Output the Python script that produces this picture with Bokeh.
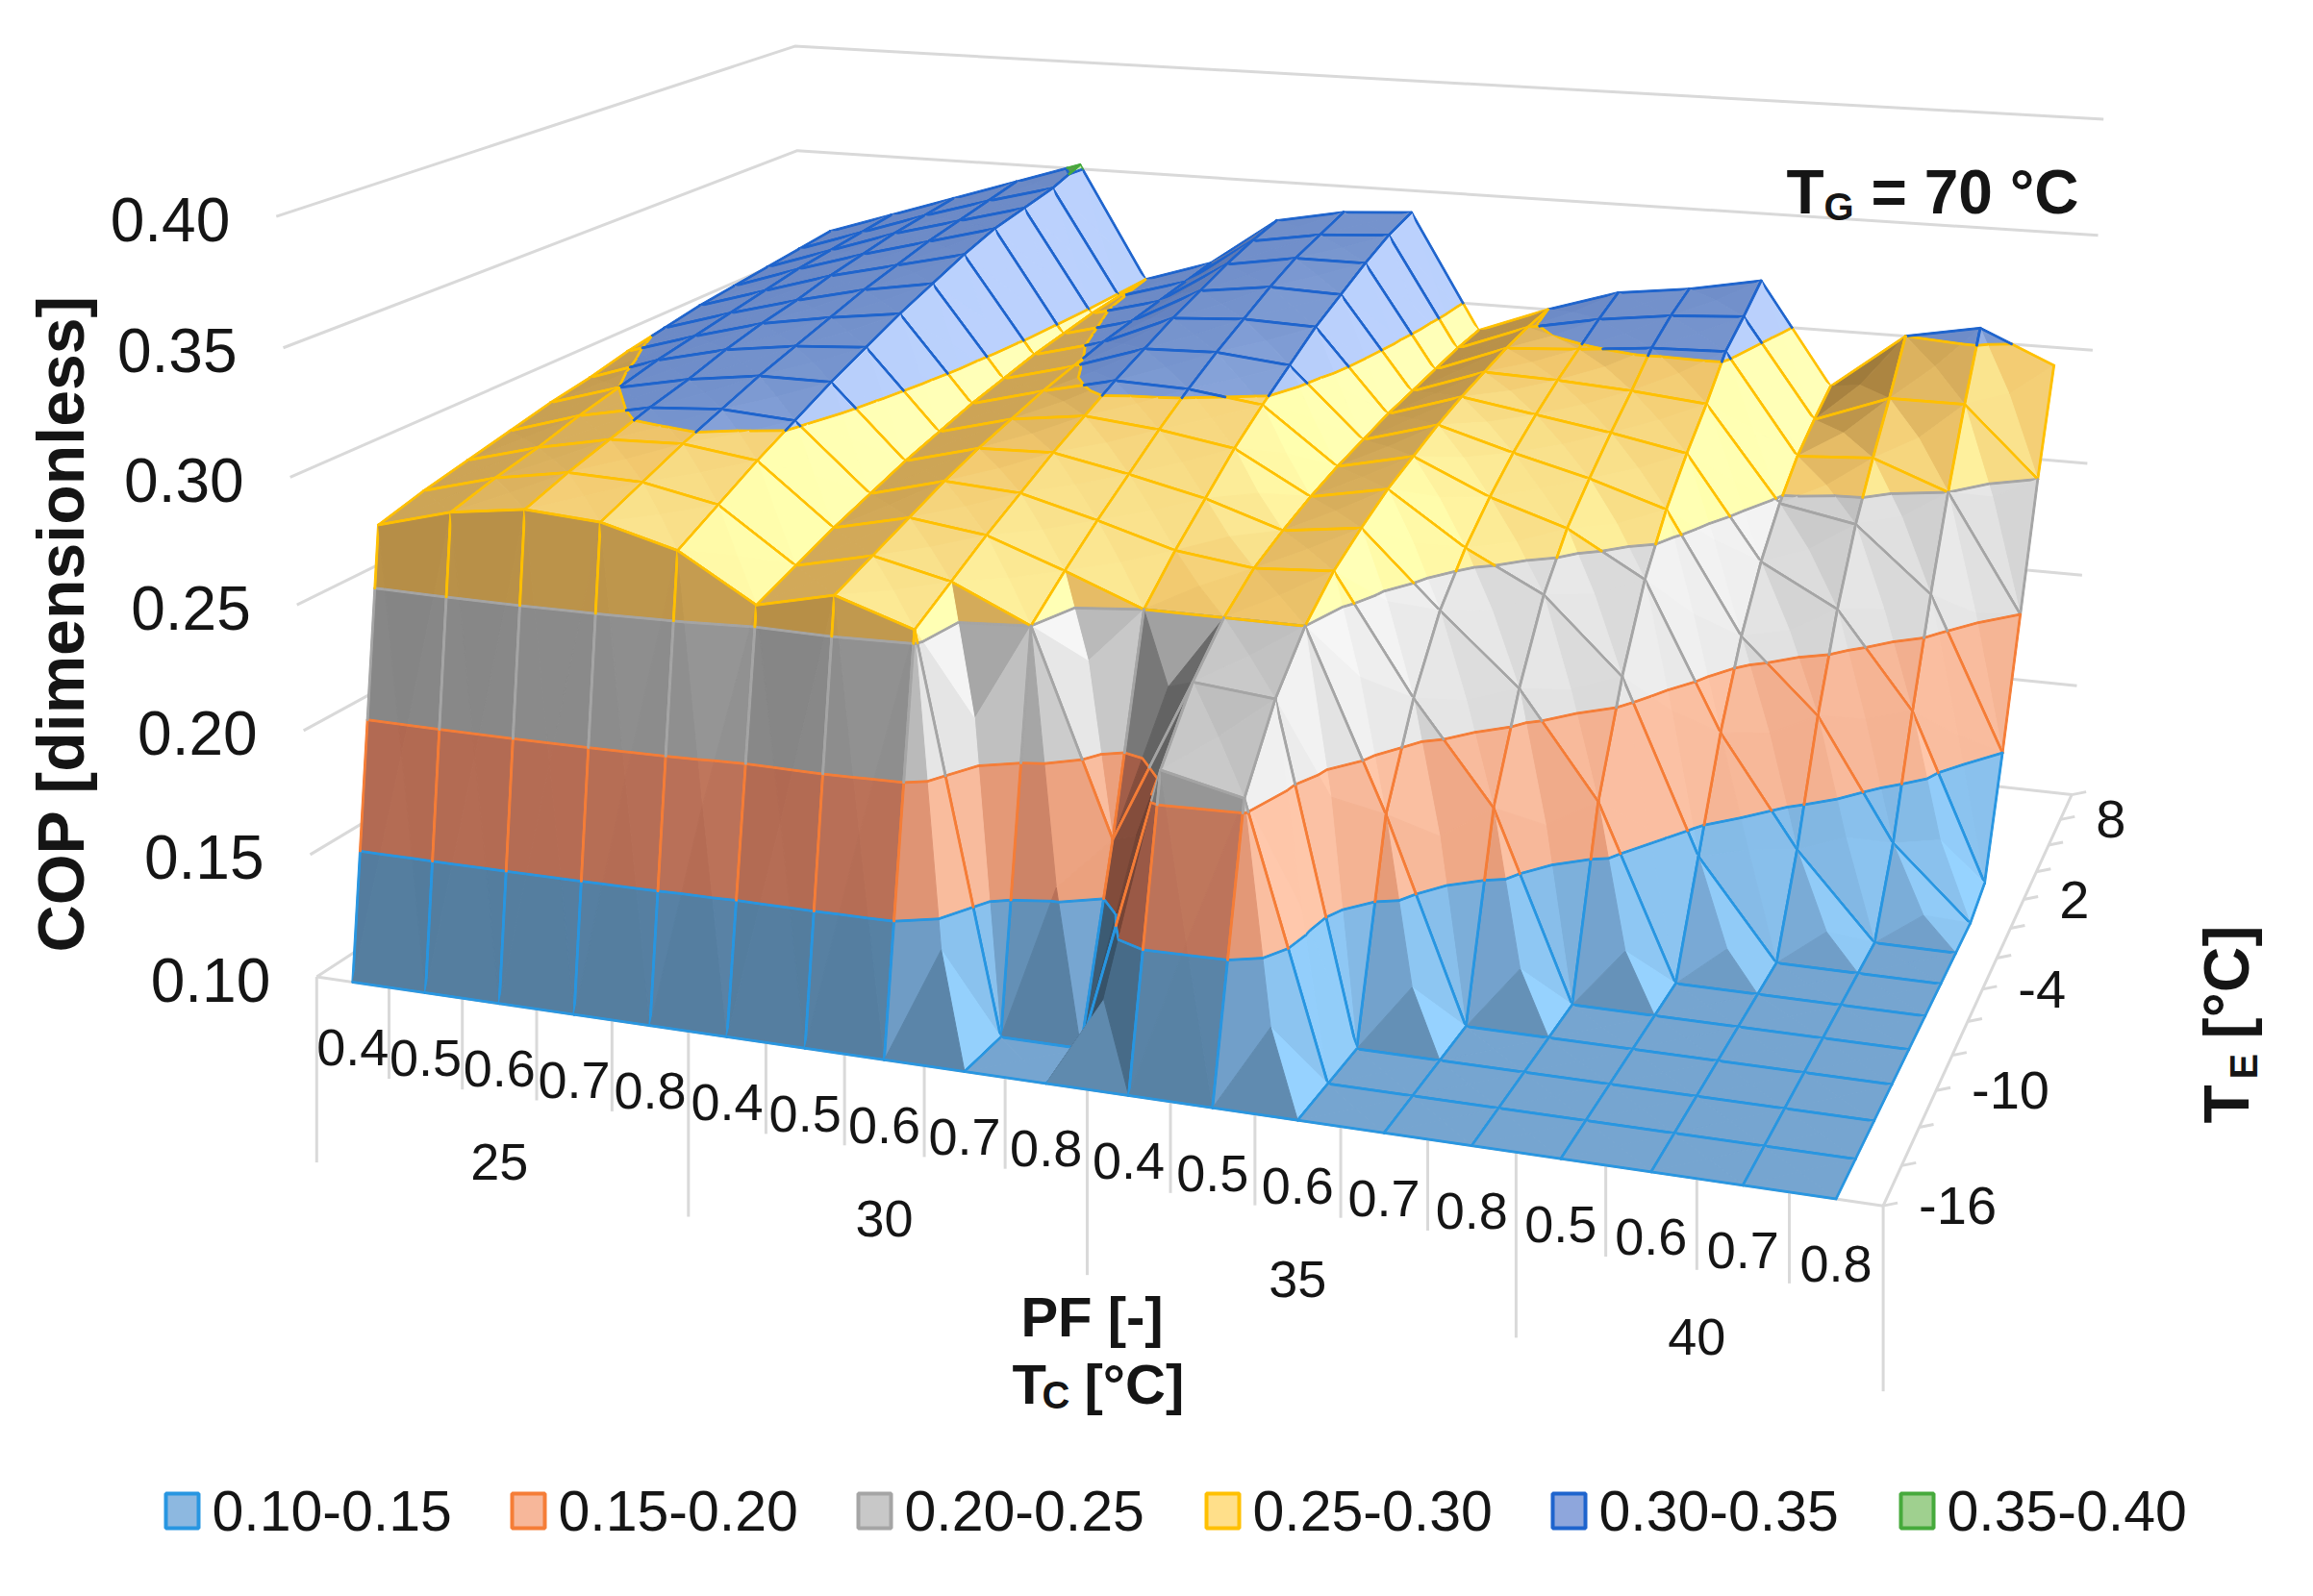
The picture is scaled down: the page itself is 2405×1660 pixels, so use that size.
import numpy as np
from bokeh.plotting import figure
from bokeh.models import Range1d
from bokeh.embed import file_html
from bokeh.resources import INLINE
from bokeh.core.properties import value

# ---------------- data ----------------
tc_labels = ["25", "30", "35", "40"]
tc_group_sizes = [5, 5, 5, 4]
pf_labels = ["0.4", "0.5", "0.6", "0.7", "0.8",
             "0.4", "0.5", "0.6", "0.7", "0.8",
             "0.4", "0.5", "0.6", "0.7", "0.8",
             "0.5", "0.6", "0.7", "0.8"]
te_values = [-16, -14, -12, -10, -8, -6, -4, -2, 0, 2, 4, 6, 8, 10]
te_tick_labels = ["-16", "-10", "-4", "2", "8"]
cop_ticks = [0.10, 0.15, 0.20, 0.25, 0.30, 0.35, 0.40]
band_labels = ["0.10-0.15", "0.15-0.20", "0.20-0.25", "0.25-0.30", "0.30-0.35", "0.35-0.40"]

# COP for each evaporator temperature (one list per T_E, 19 PF/T_C categories)
cop_te_m16 = [0.100, 0.100, 0.100, 0.100, 0.100, 0.100, 0.100, 0.100, 0.100, 0.100, 0.100, 0.100, 0.100, 0.100, 0.100, 0.100, 0.100, 0.100, 0.100]
cop_te_m14 = [0.274, 0.282, 0.286, 0.284, 0.276, 0.258, 0.265, 0.255, 0.100, 0.100, 0.212, 0.205, 0.100, 0.100, 0.100, 0.100, 0.100, 0.100, 0.100]
cop_te_m12 = [0.279, 0.287, 0.292, 0.291, 0.285, 0.264, 0.271, 0.264, 0.250, 0.170, 0.235, 0.232, 0.100, 0.100, 0.100, 0.100, 0.100, 0.100, 0.100]
cop_te_m10 = [0.283, 0.291, 0.297, 0.298, 0.294, 0.270, 0.277, 0.273, 0.262, 0.250, 0.250, 0.250, 0.180, 0.100, 0.100, 0.100, 0.100, 0.100, 0.100]
cop_te_m8 = [0.287, 0.296, 0.302, 0.304, 0.302, 0.275, 0.283, 0.281, 0.273, 0.264, 0.260, 0.262, 0.215, 0.175, 0.100, 0.100, 0.100, 0.100, 0.100]
cop_te_m6 = [0.291, 0.300, 0.306, 0.310, 0.310, 0.280, 0.288, 0.289, 0.283, 0.276, 0.266, 0.270, 0.240, 0.212, 0.170, 0.100, 0.100, 0.100, 0.100]
cop_te_m4 = [0.294, 0.304, 0.311, 0.315, 0.317, 0.284, 0.292, 0.296, 0.293, 0.288, 0.271, 0.277, 0.256, 0.240, 0.210, 0.140, 0.100, 0.100, 0.100]
cop_te_m2 = [0.298, 0.307, 0.315, 0.320, 0.324, 0.288, 0.296, 0.303, 0.302, 0.298, 0.275, 0.282, 0.268, 0.258, 0.240, 0.180, 0.135, 0.100, 0.100]
cop_te_0 = [0.301, 0.310, 0.318, 0.325, 0.330, 0.291, 0.299, 0.309, 0.310, 0.307, 0.278, 0.287, 0.278, 0.270, 0.260, 0.210, 0.180, 0.130, 0.100]
cop_te_p2 = [0.304, 0.313, 0.322, 0.329, 0.336, 0.294, 0.302, 0.315, 0.317, 0.316, 0.281, 0.291, 0.286, 0.281, 0.275, 0.232, 0.215, 0.175, 0.105]
cop_te_p4 = [0.306, 0.316, 0.325, 0.333, 0.341, 0.296, 0.304, 0.320, 0.324, 0.323, 0.283, 0.294, 0.293, 0.291, 0.288, 0.248, 0.242, 0.215, 0.150]
cop_te_p6 = [0.308, 0.318, 0.328, 0.336, 0.344, 0.298, 0.306, 0.325, 0.330, 0.330, 0.285, 0.297, 0.299, 0.302, 0.303, 0.260, 0.262, 0.250, 0.200]
cop_te_p8 = [0.310, 0.320, 0.330, 0.339, 0.347, 0.299, 0.308, 0.329, 0.334, 0.336, 0.287, 0.299, 0.305, 0.309, 0.311, 0.268, 0.280, 0.280, 0.250]
cop_te_p10 = [0.312, 0.322, 0.332, 0.342, 0.352, 0.300, 0.310, 0.332, 0.338, 0.340, 0.288, 0.300, 0.310, 0.314, 0.320, 0.275, 0.300, 0.306, 0.292]

# ---------------- styling ----------------
# shade anchors per band: facing front, facing up, facing the light
band_front = [(80, 120, 152), (172, 100, 78), (128, 128, 128), (178, 138, 68), (102, 132, 194), (80, 140, 60)]
band_top = [(118, 165, 208), (235, 160, 125), (200, 200, 200), (242, 200, 110), (120, 150, 207), (120, 180, 100)]
band_lit = [(140, 196, 240), (250, 190, 160), (232, 232, 232), (255, 243, 160), (165, 190, 238), (170, 220, 150)]
band_line = [(40, 150, 225), (245, 125, 55), (165, 165, 165), (255, 192, 0), (30, 100, 205), (70, 170, 60)]
legend_fill = ["#8db8e0", "#f7b79a", "#c8c8c8", "#ffdf8a", "#8ea6dc", "#9fd08f"]
GRID = "#d9d9d9"
TXT = "#151515"
FONT = value("Liberation Sans")

Z = np.array([cop_te_m16, cop_te_m14, cop_te_m12, cop_te_m10, cop_te_m8, cop_te_m6, cop_te_m4,
              cop_te_m2, cop_te_0, cop_te_p2, cop_te_p4, cop_te_p6, cop_te_p8, cop_te_p10], float)
nrows, ncols = Z.shape
cat_pos = [(i + 0.5) / ncols for i in range(ncols)]
row_pos = [j / (nrows - 1) for j in range(nrows)]
CMIN, CMAX = cop_ticks[0], cop_ticks[-1]

# ---------------- camera (chart box corners -> page pixels) ----------------
calib = [
    ((0, 0, 0), (337, 1023)), ((0, 0, 1), (295, 233)), ((0, 0, 0.5), (318, 638)), ((0, 0, 1 / 6), (329, 896)),
    ((0, 1, 1), (834, 53)), ((0, 1, 2 / 3), (842, 273)), ((0, 1, 5 / 6), (834, 164)),
    ((1, 1, 1), (2195, 130)), ((1, 1, 5 / 6), (2191, 254)), ((1, 1, 2 / 3), (2184, 373)),
    ((1, 1, 0.5), (2176, 490)), ((1, 1, 1 / 3), (2168, 606)), ((1, 1, 1 / 6), (2164, 720)),
    ((1, 1, 0), (2160, 833)), ((1, 0, 0), (1961, 1259)), ((5 / 19, 0, 0), (723, 1081)),
    ((10 / 19, 0, 0), (1136, 1141)), ((15 / 19, 0, 0), (1582, 1205)),
    ((1, 3 / 13, 0), (2025, 1142)), ((1, 6 / 13, 0), (2073, 1038)), ((1, 9 / 13, 0), (2115, 943)),
    ((1, 12 / 13, 0), (2153, 860)),
]
A = []
for (X, Y, Zw), (u, v) in calib:
    u /= 1000.0
    v /= 1000.0
    A.append([X, Y, Zw, 1, 0, 0, 0, 0, -u * X, -u * Y, -u * Zw, -u])
    A.append([0, 0, 0, 0, X, Y, Zw, 1, -v * X, -v * Y, -v * Zw, -v])
_, _, Vt = np.linalg.svd(np.array(A, float))
P = Vt[-1].reshape(3, 4)
if (P @ np.array([0.5, 0.5, 0.5, 1.0]))[2] < 0:
    P = -P


def world(X, Y, cop):
    return np.array([X, Y, (cop - CMIN) / (CMAX - CMIN)])


def proj(w):
    h = P[:, :3] @ w + P[:, 3]
    return h[0] / h[2] * 1000.0, h[1] / h[2] * 1000.0


def proj_pt(X, Y, cop):
    return proj(world(X, Y, cop))


def D(y):  # image row -> data y
    return 1660.0 - y


# ---------------- figure ----------------
WF, HF = 2385, 1640
p = figure(width=WF, height=HF, x_range=Range1d(8, 8 + WF), y_range=Range1d(1652 - HF, 1652),
           output_backend="svg", toolbar_location=None, min_border=0)
p.axis.visible = False
p.grid.visible = False
p.outline_line_color = None
p.background_fill_color = "white"
p.border_fill_color = "white"

# walls gridlines
gx, gy = [], []
for c in cop_ticks:
    a = proj_pt(0, 0, c)
    b = proj_pt(0, 1, c)
    d = proj_pt(1, 1, c)
    gx.append([a[0], b[0], d[0]])
    gy.append([D(a[1]), D(b[1]), D(d[1])])
p.multi_line(gx, gy, line_color=GRID, line_width=3)

# floor edges (front and right)
f0 = proj_pt(0, 0, CMIN)
f1 = proj_pt(1, 0, CMIN)
f2 = proj_pt(1, 1, CMIN)
p.line([f0[0], f1[0], f2[0]], [D(f0[1]), D(f1[1]), D(f2[1])], line_color=GRID, line_width=3)

# category ticks
tx, ty = [], []
bounds = [0]
for s in tc_group_sizes:
    bounds.append(bounds[-1] + s)
for i in range(ncols + 1):
    u, v = proj_pt(i / ncols, 0, CMIN)
    ln = 193 if i in bounds else 95
    tx.append([u, u])
    ty.append([D(v), D(v + ln)])
# T_E ticks
for j in range(nrows):
    u, v = proj_pt(1, row_pos[j], CMIN)
    tx.append([u, u + 15])
    ty.append([D(v), D(v - 3)])
p.multi_line(tx, ty, line_color=GRID, line_width=3)

# ---------------- surface ----------------
Lv = np.array([0.8, -0.1, 0.5])
Lv = Lv / np.linalg.norm(Lv)
I_front = 0.5 + 0.5 * (-Lv[1])
I_top = 0.5 + 0.5 * Lv[2]
I_lit = 0.5 + 0.5 * Lv[0]
MET = np.array([1.0, 0.5, 0.57])


def shade(k, I):
    cf = np.array(band_front[k], float)
    ct = np.array(band_top[k], float)
    cl = np.array(band_lit[k], float)
    if I >= I_top:
        c = ct + (cl - ct) * (I - I_top) / (I_lit - I_top)
    elif I >= I_front:
        c = cf + (ct - cf) * (I - I_front) / (I_top - I_front)
    else:
        c = cf * (0.45 + 0.55 * I / I_front)
    c = np.clip(c, 0, 255).astype(int)
    return "#%02x%02x%02x" % tuple(c)


def hexc(t):
    return "#%02x%02x%02x" % t


def clip_poly(poly, flags, level, keep_above, cflag):
    out, of = [], []
    n = len(poly)
    for k in range(n):
        a = poly[k]
        b = poly[(k + 1) % n]
        f = flags[k]
        da = (a[2] - level) if keep_above else (level - a[2])
        db = (b[2] - level) if keep_above else (level - b[2])
        if da >= 0:
            out.append(a)
            of.append(f)
            if db < 0:
                t = da / (da - db)
                out.append(a + t * (b - a))
                of.append(cflag)
        else:
            if db >= 0:
                t = da / (da - db)
                out.append(a + t * (b - a))
                of.append(f)
    return out, of


tris = []
for j in range(nrows - 1):
    for i in range(ncols - 1):
        idx = [(i, j), (i + 1, j), (i + 1, j + 1), (i, j + 1)]
        pts = [np.array([cat_pos[a], row_pos[b], Z[b, a]]) for a, b in idx]
        ctr = sum(pts) / 4.0
        for k in range(4):
            tris.append((pts[k], pts[(k + 1) % 4], ctr))


def depth(t):
    c = (t[0] + t[1] + t[2]) / 3.0
    w = world(*c)
    return P[2, :3] @ w + P[2, 3]


tris.sort(key=depth, reverse=True)

PX, PY, PC = [], [], []
EW = 1.8
for t in tris:
    m = [np.array([q[0], q[1], (q[2] - CMIN) / (CMAX - CMIN)]) * MET for q in t]
    n = np.cross(m[1] - m[0], m[2] - m[0])
    nn = np.linalg.norm(n)
    if nn < 1e-12:
        continue
    n = n / nn
    if n[2] < 0:
        n = -n
    I = 0.5 + 0.5 * float(n @ Lv)
    edges = []
    for k in range(len(band_labels)):
        lo = cop_ticks[k]
        hi = cop_ticks[k + 1]
        poly, fl = clip_poly(list(t), [True, False, False], lo, True, False)
        if len(poly) < 3:
            continue
        poly, fl = clip_poly(poly, fl, hi, False, True)
        if len(poly) < 3:
            continue
        uv = [proj(world(*q)) for q in poly]
        PX.append([q[0] for q in uv])
        PY.append([D(q[1]) for q in uv])
        PC.append(shade(k, I))
        for e in range(len(uv)):
            if fl[e]:
                edges.append((uv[e], uv[(e + 1) % len(uv)], hexc(band_line[k])))
    for a, b, col in edges:
        dx, dy = b[0] - a[0], b[1] - a[1]
        ln = np.hypot(dx, dy)
        if ln < 0.3:
            continue
        nx, ny = -dy / ln * EW / 2, dx / ln * EW / 2
        ex, ey = dx / ln * 0.6, dy / ln * 0.6
        PX.append([a[0] - ex + nx, b[0] + ex + nx, b[0] + ex - nx, a[0] - ex - nx])
        PY.append([D(a[1] - ey + ny), D(b[1] + ey + ny), D(b[1] + ey - ny), D(a[1] - ey - ny)])
        PC.append(col)

p.patches(PX, PY, fill_color=PC, line_color=PC, line_width=1.0)

# ---------------- texts ----------------
# COP axis labels
for c in cop_ticks:
    u, v = proj_pt(0, 0, c)
    p.text([u - 48], [D(v + 3)], text=["%.2f" % c], text_font=FONT, text_font_size="64px",
           text_align="right", text_baseline="middle", text_color=TXT)

# PF labels
for i, lab in enumerate(pf_labels):
    u, v = proj_pt(cat_pos[i], 0, CMIN)
    p.text([u], [D(v + 68)], text=[lab], text_font=FONT, text_font_size="54px",
           text_align="center", text_baseline="middle", text_color=TXT)

# T_C group labels
for g, lab in enumerate(tc_labels):
    xc = (bounds[g] + bounds[g + 1]) / 2.0 / ncols
    u, v = proj_pt(xc, 0, CMIN)
    p.text([u], [D(v + 165)], text=[lab], text_font=FONT, text_font_size="54px",
           text_align="center", text_baseline="middle", text_color=TXT)

# T_E labels
for lab in te_tick_labels:
    j = te_values.index(int(lab))
    u, v = proj_pt(1, row_pos[j], CMIN)
    p.text([u + 37], [D(v)], text=[lab], text_font=FONT, text_font_size="56px",
           text_align="left", text_baseline="middle", text_color=TXT)

# axis titles
p.text([70], [D(656)], text=["COP [dimensionless]"], angle=np.pi / 2, text_font=FONT,
       text_font_size="68px", text_font_style="bold", text_align="center",
       text_baseline="middle", text_color=TXT)
p.text([1143], [D(1377)], text=["PF [-]"], text_font=FONT, text_font_size="58px",
       text_font_style="bold", text_align="center", text_baseline="alphabetic", text_color=TXT)
p.text([1060], [D(1447)], text=["T"], text_font=FONT, text_font_size="58px",
       text_font_style="bold", text_align="left", text_baseline="alphabetic", text_color=TXT)
p.text([1091], [D(1458)], text=["C"], text_font=FONT, text_font_size="40px",
       text_font_style="bold", text_align="left", text_baseline="alphabetic", text_color=TXT)
p.text([1135], [D(1447)], text=["[°C]"], text_font=FONT, text_font_size="58px",
       text_font_style="bold", text_align="left", text_baseline="alphabetic", text_color=TXT)

# T_E title (rotated)
p.text([2322], [D(1176)], text=["T"], angle=np.pi / 2, text_font=FONT, text_font_size="66px",
       text_font_style="bold", text_align="left", text_baseline="middle", text_color=TXT)
p.text([2340], [D(1130)], text=["E"], angle=np.pi / 2, text_font=FONT, text_font_size="40px",
       text_font_style="bold", text_align="left", text_baseline="middle", text_color=TXT)
p.text([2322], [D(1088)], text=["[°C]"], angle=np.pi / 2, text_font=FONT, text_font_size="66px",
       text_font_style="bold", text_align="left", text_baseline="middle", text_color=TXT)

# T_G annotation
p.text([1865], [D(207)], text=["T"], text_font=FONT, text_font_size="64px", text_font_style="bold",
       text_align="left", text_baseline="alphabetic", text_color=TXT)
p.text([1904], [D(222)], text=["G"], text_font=FONT, text_font_size="40px", text_font_style="bold",
       text_align="left", text_baseline="alphabetic", text_color=TXT)
p.text([1953], [D(207)], text=["= 70 °C"], text_font=FONT, text_font_size="64px", text_font_style="bold",
       text_align="left", text_baseline="alphabetic", text_color=TXT)

# legend
leg_x = [197, 557, 917, 1279, 1639, 2001]
leg_y = 1579
for k, lab in enumerate(band_labels):
    cx = leg_x[k]
    p.quad(left=[cx - 17], right=[cx + 17], top=[D(leg_y - 18)], bottom=[D(leg_y + 18)],
           fill_color=legend_fill[k], line_color=hexc(band_line[k]), line_width=4)
    p.text([cx + 31], [D(leg_y)], text=[lab], text_font=FONT, text_font_size="59px",
           text_align="left", text_baseline="middle", text_color=TXT)

open("out.html", "w").write(file_html(p, INLINE))
